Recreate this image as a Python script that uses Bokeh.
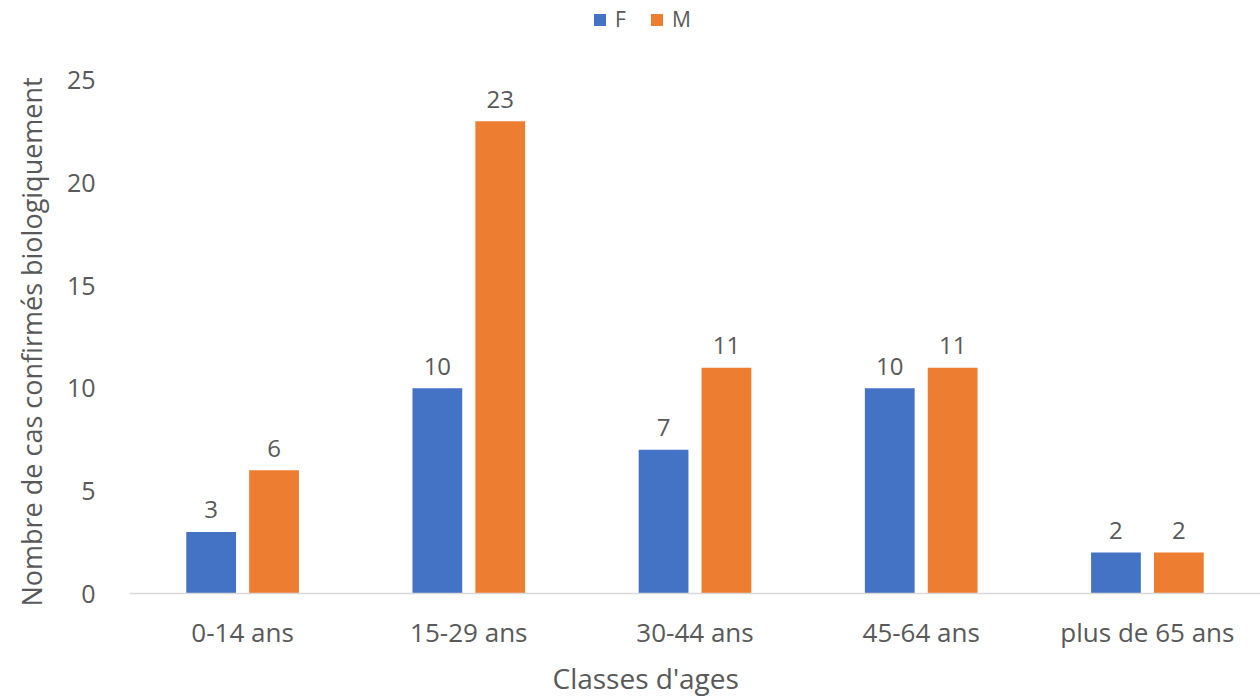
from bokeh.plotting import figure
from bokeh.models import ColumnDataSource, FactorRange, Legend, LegendItem, Title
from bokeh.transform import dodge
from bokeh.core.properties import value
from bokeh.embed import file_html
from bokeh.resources import INLINE

# Age classes and confirmed cases by sex
categories = ["0-14 ans", "15-29 ans", "30-44 ans", "45-64 ans", "plus de 65 ans"]
female = [3, 10, 7, 10, 2]
male = [6, 23, 11, 11, 2]
y_ticks = [0, 5, 10, 15, 20, 25]

BLUE = "#4472C4"
ORANGE = "#ED7D31"
TEXT = "#595959"
FONT = "Open Sans"

src = ColumnDataSource(dict(
    cat=categories,
    f=female,
    m=male,
    f_lbl=[str(v) for v in female],
    m_lbl=[str(v) for v in male],
))

# frame reaches the top edge so the legend can sit above the tallest tick
y_top = 25 * 595 / 515

p = figure(
    x_range=FactorRange(*categories, range_padding=0),
    y_range=(0, y_top),
    width=1260, height=700,
    min_border_left=127, min_border_right=0,
    min_border_top=0, min_border_bottom=105,
    output_backend="svg", toolbar_location=None,
    outline_line_color=None, background_fill_color="white",
    border_fill_color="white",
)

bw = 0.22
off = 0.139
rf = p.vbar(x=dodge("cat", -off, range=p.x_range), top="f", width=bw, source=src,
            fill_color=BLUE, line_color=None)
rm = p.vbar(x=dodge("cat", off, range=p.x_range), top="m", width=bw, source=src,
            fill_color=ORANGE, line_color=None)

for col, lbl, o in (("f", "f_lbl", -off), ("m", "m_lbl", off)):
    p.text(x=dodge("cat", o, range=p.x_range), y=col, text=lbl, source=src,
           text_align="center", text_baseline="alphabetic", y_offset=-22,
           text_font=value(FONT), text_font_size="24px", text_color=TEXT)

p.xgrid.grid_line_color = None
p.ygrid.grid_line_color = None

# x axis
xa = p.xaxis[0]
xa.axis_line_color = "#D9D9D9"
xa.axis_line_width = 1.5
xa.major_tick_line_color = None
xa.minor_tick_line_color = None
xa.major_label_text_font = FONT
xa.major_label_text_font_size = "26px"
xa.major_label_text_color = TEXT
xa.major_label_standoff = 14

# y axis
ya = p.yaxis[0]
ya.ticker = y_ticks
ya.axis_line_color = None
ya.major_tick_line_color = None
ya.minor_tick_line_color = None
ya.major_label_text_font = FONT
ya.major_label_text_font_size = "25px"
ya.major_label_text_color = TEXT
ya.major_label_standoff = 28

# axis titles, positioned along their side panels
x_title = Title(text="Classes d'ages", align="left", offset=423,
                text_font=FONT, text_font_size="28px", text_font_style="normal",
                text_color=TEXT, standoff=8)
p.add_layout(x_title, "below")

y_title = Title(text="Nombre de cas confirmés biologiquement", align="left", offset=-13,
                vertical_align="top",
                text_font=FONT, text_font_size="27px", text_font_style="normal",
                text_color=TEXT, standoff=24)
p.add_layout(y_title, "left")

legend = Legend(
    items=[LegendItem(label="F", renderers=[rf]), LegendItem(label="M", renderers=[rm])],
    orientation="horizontal", location=(463, 560),
    label_text_font=FONT, label_text_font_size="21px", label_text_color=TEXT,
    glyph_width=15, glyph_height=15, label_standoff=8, spacing=14,
    border_line_color=None, background_fill_alpha=0,
    padding=0, margin=0,
)
p.add_layout(legend, "center")

open("out.html", "w").write(file_html(p, INLINE))
